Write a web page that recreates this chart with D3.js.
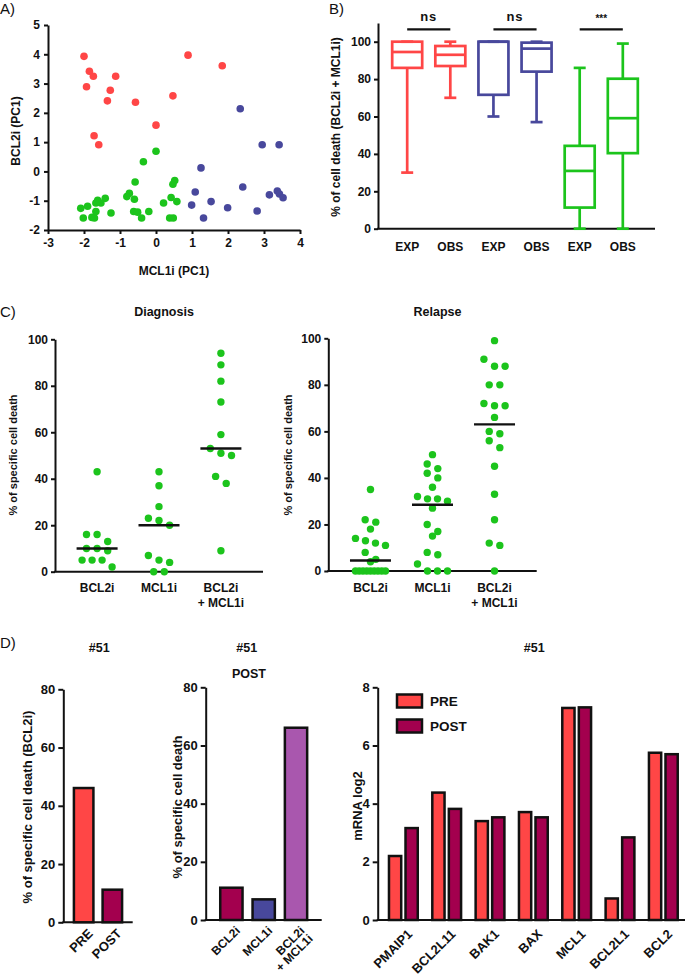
<!DOCTYPE html>
<html>
<head>
<meta charset="utf-8">
<script src="https://cdn.jsdelivr.net/npm/d3@7"></script>
<style>
  body { margin: 0; background: #fff; }
  svg text { font-family: "Liberation Sans", Arial, sans-serif; fill: #111; }
</style>
</head>
<body>
<svg id="fig" width="685" height="980"></svg>
<script>
// ---- data ----
// A) PCA scatter
const redX = [-2.0, -1.85, -1.74, -1.93, -1.12, -1.27, -1.35, -0.57, 0.89, 1.84, 0.47, 0.0, -1.72, -1.59];
const redY = [3.93, 3.42, 3.25, 2.89, 3.25, 2.77, 2.41, 2.36, 3.97, 3.61, 2.58, 1.58, 1.22, 0.91];
const blueX = [2.34, 2.95, 3.42, 1.25, 2.41, 1.09, 3.15, 3.37, 3.43, 3.53, 1.53, 0.99, 1.99, 2.81, 1.32];
const blueY = [2.14, 0.91, 0.91, 0.12, -0.53, -0.70, -0.80, -0.67, -0.77, -0.90, -1.03, -1.15, -1.24, -1.35, -1.59];
const greenX = [0.0, -0.35, -0.58, 0.52, 0.47, -0.74, -0.81, -0.60, 0.42, 0.58, 0.21, -1.41, -1.53, -1.62, -1.67,
  -1.90, -2.09, -2.02, -1.78, -1.71, -1.67, -1.25, -0.62, -0.51, -0.40, -0.20, 0.38, 0.48];
const greenY = [0.69, 0.33, -0.36, -0.31, -0.44, -0.75, -0.86, -0.95, -0.89, -1.03, -1.08, -0.92, -1.08, -0.99, -1.08,
  -1.19, -1.26, -1.59, -1.57, -1.59, -1.37, -1.42, -1.37, -1.39, -1.59, -1.37, -1.59, -1.59];

// B) box plots
const boxLabels = ["EXP", "OBS", "EXP", "OBS", "EXP", "OBS"];
const boxMin = [30, 70, 60, 57, 0, 0];
const boxQ1 = [86, 87, 71.6, 84, 11.3, 40.4];
const boxMed = [94.5, 93, 100, 96.3, 30.9, 59.1];
const boxQ3 = [100, 97.7, 100, 99.5, 44.3, 80.2];
const boxMax = [100, 100, 100, 100, 86, 99];
const sigPairs = [[0, 1], [2, 3], [4, 5]];
const sigLabels = ["ns", "ns", "***"];

// C) specific cell death
const cCats = ["BCL2i", "MCL1i", "BCL2i\n+ MCL1i"];
const diagBCL2i = [43, 16, 16, 13, 10, 10, 9, 5, 5, 5, 2];
const diagMCL1i = [43, 37, 28, 23, 22, 20, 7, 5, 4, 0, 0];
const diagCombo = [94, 89, 82, 73, 59, 53, 51, 50, 41, 38, 9];
const relBCL2i = [35, 22, 21, 18, 14, 13, 12, 11, 8, 5, 4, 0, 0, 0, 0, 0, 0, 0, 0, 0];
const relMCL1i = [50, 46, 44, 42, 40, 36, 32, 31, 31, 30, 27, 20, 17, 15, 8, 7, 3, 0, 0, 0];
const relCombo = [99, 91, 88, 88, 80, 80, 72, 71, 71, 66, 60, 59, 56, 53, 45, 33, 22, 12, 11, 0];

// D) patient #51
const prePostCats = ["PRE", "POST"];
const prePostVals = [46.1, 11.2];
const postCats = ["BCL2i", "MCL1i", "BCL2i\n+ MCL1i"];
const postVals = [11.1, 7.1, 66.1];
const genes = ["PMAIP1", "BCL2L11", "BAK1", "BAX", "MCL1", "BCL2L1", "BCL2"];
const mrnaPre = [2.2, 4.38, 3.4, 3.71, 7.29, 0.74, 5.75];
const mrnaPost = [3.16, 3.82, 3.53, 3.53, 7.31, 2.84, 5.7];

const RED = "#ff4646", NAVY = "#48489c", GREEN = "#1cc41c", CRIMSON = "#a3004e", PURPLE = "#a957ae";

const svg = d3.select("#fig");
const fmt = d => String(d);

function styleAxis(g, fs) {
  g.selectAll("path.domain").attr("stroke", "#111").attr("stroke-width", 2);
  g.selectAll(".tick line").attr("stroke", "#111").attr("stroke-width", 2);
  g.selectAll(".tick text").attr("font-size", fs).attr("font-weight", "bold")
    .style("font-family", "'Liberation Sans', Arial, sans-serif").attr("fill", "#111");
}

function panelLabel(txt, x, y) {
  svg.append("text").attr("x", x).attr("y", y).attr("font-size", 15).text(txt);
}

function yTitle(txt, x, y, fs) {
  svg.append("text")
    .attr("transform", `translate(${x},${y}) rotate(-90)`)
    .attr("text-anchor", "middle").attr("dominant-baseline", "central")
    .attr("font-size", fs).attr("font-weight", "bold").text(txt);
}

function title(txt, x, y, fs) {
  svg.append("text").attr("x", x).attr("y", y).attr("text-anchor", "middle")
    .attr("font-size", fs).attr("font-weight", "bold").text(txt);
}

// ---------- A ----------
panelLabel("A)", 0, 14);
const ax = d3.scaleLinear().domain([-3, 4]).range([48, 300]);
const ay = d3.scaleLinear().domain([-2, 5]).range([230, 25]);
svg.append("g").attr("transform", "translate(0,230)")
  .call(d3.axisBottom(ax).tickValues(d3.range(-3, 5)).tickFormat(fmt).tickSize(4).tickSizeOuter(0).tickPadding(4))
  .call(g => styleAxis(g, 12));
svg.append("g").attr("transform", "translate(48,0)")
  .call(d3.axisLeft(ay).tickValues(d3.range(-2, 6)).tickFormat(fmt).tickSize(4).tickSizeOuter(0).tickPadding(4))
  .call(g => styleAxis(g, 12));
title("MCL1i (PC1)", 174, 275, 12);
yTitle("BCL2i (PC1)", 16, 131, 12);

[[redX, redY, RED], [blueX, blueY, NAVY], [greenX, greenY, GREEN]].forEach(([xs, ys, col]) => {
  svg.append("g").selectAll("circle").data(xs).join("circle")
    .attr("cx", d => ax(d)).attr("cy", (d, i) => ay(ys[i])).attr("r", 3.8).attr("fill", col);
});

// ---------- B ----------
panelLabel("B)", 329, 14);
const bx = d3.scaleBand().domain(d3.range(6)).range([377, 653]).paddingOuter(0.2).paddingInner(0);
const by = d3.scaleLinear().domain([0, 110]).range([228.7, 23]);
const boxColor = [RED, RED, NAVY, NAVY, GREEN, GREEN];
svg.append("g").attr("transform", "translate(378,0)")
  .call(d3.axisLeft(by).tickValues(d3.range(0, 101, 20)).tickSize(4).tickSizeOuter(0).tickPadding(3))
  .call(g => styleAxis(g, 12));
svg.append("line").attr("x1", 377).attr("x2", 655).attr("y1", by(0)).attr("y2", by(0))
  .attr("stroke", "#111").attr("stroke-width", 2);
yTitle("% of cell death (BCL2i + MCL1i)", 336, 127, 12);

const boxW = 30, capW = 12;
const boxes = svg.append("g").selectAll("g").data(boxLabels).join("g")
  .attr("stroke", (d, i) => boxColor[i]).attr("stroke-width", 2.7).attr("fill", "none");
boxes.each(function (d, i) {
  const g = d3.select(this);
  const cx = bx(i) + bx.bandwidth() / 2;
  g.append("line").attr("x1", cx).attr("x2", cx).attr("y1", by(boxMax[i])).attr("y2", by(boxQ3[i]));
  g.append("line").attr("x1", cx).attr("x2", cx).attr("y1", by(boxQ1[i])).attr("y2", by(boxMin[i]));
  g.append("line").attr("x1", cx - capW / 2).attr("x2", cx + capW / 2).attr("y1", by(boxMax[i])).attr("y2", by(boxMax[i]));
  g.append("line").attr("x1", cx - capW / 2).attr("x2", cx + capW / 2).attr("y1", by(boxMin[i])).attr("y2", by(boxMin[i]));
  g.append("rect").attr("x", cx - boxW / 2).attr("width", boxW)
    .attr("y", by(boxQ3[i])).attr("height", by(boxQ1[i]) - by(boxQ3[i]));
  g.append("line").attr("x1", cx - boxW / 2).attr("x2", cx + boxW / 2).attr("y1", by(boxMed[i])).attr("y2", by(boxMed[i]));
});
svg.append("g").selectAll("text").data(boxLabels).join("text")
  .attr("x", (d, i) => bx(i) + bx.bandwidth() / 2).attr("y", 251)
  .attr("text-anchor", "middle").attr("font-size", 12).attr("font-weight", "bold").text(d => d);
sigPairs.forEach((p, k) => {
  const x1 = bx(p[0]) + bx.bandwidth() / 2, x2 = bx(p[1]) + bx.bandwidth() / 2;
  svg.append("line").attr("x1", x1).attr("x2", x2).attr("y1", 29.3).attr("y2", 29.3)
    .attr("stroke", "#111").attr("stroke-width", 2.2);
  svg.append("text").attr("x", (x1 + x2) / 2).attr("y", sigLabels[k] === "ns" ? 21 : 22)
    .attr("text-anchor", "middle").attr("font-size", sigLabels[k] === "ns" ? 13 : 10)
    .attr("font-weight", "bold").attr("letter-spacing", sigLabels[k] === "ns" ? 1 : 0).text(sigLabels[k]);
});

// ---------- C ----------
panelLabel("C)", 0, 317);

function swarmOffsets(vals, y, r, step, maxW) {
  const idx = d3.range(vals.length).sort((a, b) => vals[b] - vals[a]);
  const off = new Array(vals.length).fill(0);
  let row = [];
  const flush = () => {
    const n = row.length;
    const s = n > 1 ? Math.min(step, maxW / (n - 1)) : 0;
    row.forEach((i, k) => { off[i] = (k - (n - 1) / 2) * s; });
    row = [];
  };
  idx.forEach(i => {
    if (row.length && Math.abs(y(vals[row[0]]) - y(vals[i])) > 2 * r) flush();
    row.push(i);
  });
  flush();
  return off;
}

function dotPanel(x0, x1, yTop, yBot, ttl, series, ylx) {
  const x = d3.scalePoint().domain(cCats).range([x0, x1]).padding(0.68);
  const y = d3.scaleLinear().domain([0, 100]).range([yBot, yTop]);
  svg.append("g").attr("transform", `translate(${x0},0)`)
    .call(d3.axisLeft(y).tickValues(d3.range(0, 101, 20)).tickSize(4).tickSizeOuter(0).tickPadding(3))
    .call(g => styleAxis(g, 12));
  svg.append("line").attr("x1", x0 - 1).attr("x2", x1).attr("y1", yBot).attr("y2", yBot)
    .attr("stroke", "#111").attr("stroke-width", 2);
  title(ttl, (x0 + x1) / 2 + 5, 316, 12.5);
  yTitle("% of specific cell death", ylx, 455, 11);
  series.forEach((vals, c) => {
    const cx = x(cCats[c]);
    const off = swarmOffsets(vals, y, 3.7, 10.6, 30);
    svg.append("g").selectAll("circle").data(vals).join("circle")
      .attr("cx", (d, i) => cx + off[i]).attr("cy", d => y(d)).attr("r", 3.7).attr("fill", GREEN);
    const med = d3.median(vals);
    svg.append("line").attr("x1", cx - 20.5).attr("x2", cx + 20.5).attr("y1", y(med)).attr("y2", y(med))
      .attr("stroke", "#111").attr("stroke-width", 2.4);
  });
  cCats.forEach(c => {
    const t = svg.append("text").attr("x", x(c)).attr("y", 592).attr("text-anchor", "middle")
      .attr("font-size", 12).attr("font-weight", "bold");
    c.split("\n").forEach((line, k) => {
      t.append("tspan").attr("x", x(c)).attr("dy", k ? 15 : 0).text(line);
    });
  });
}
dotPanel(55, 263, 339.3, 571.7, "Diagnosis", [diagBCL2i, diagMCL1i, diagCombo], 13);
dotPanel(328.3, 536.7, 338.3, 571, "Relapse", [relBCL2i, relMCL1i, relCombo], 288);

// ---------- D ----------
panelLabel("D)", 0, 648);

function barPanel(cats, vals, colors, x0, x1, xr0, yTop, yBot, ttlX, ylabel, ylx, pi, po, lfs) {
  const x = d3.scaleBand().domain(cats).range([xr0, x1]).paddingInner(pi).paddingOuter(po);
  const y = d3.scaleLinear().domain([0, 80]).range([yBot, yTop]);
  svg.append("g").attr("transform", `translate(${x0},0)`)
    .call(d3.axisLeft(y).tickValues(d3.range(0, 81, 20)).tickSize(5).tickSizeOuter(0).tickPadding(3))
    .call(g => styleAxis(g, 13));
  svg.append("line").attr("x1", x0 - 1).attr("x2", x1).attr("y1", yBot).attr("y2", yBot)
    .attr("stroke", "#111").attr("stroke-width", 2);
  title("#51", ttlX, 652, 12.5);
  yTitle(ylabel, ylx, 807, 13);
  svg.append("g").selectAll("rect").data(vals).join("rect")
    .attr("x", (d, i) => x(cats[i])).attr("width", x.bandwidth())
    .attr("y", d => y(d)).attr("height", d => yBot - y(d))
    .attr("fill", (d, i) => colors[i]).attr("stroke", "#111").attr("stroke-width", 2.5);
  cats.forEach(c => {
    const cx = x(c) + x.bandwidth() / 2 + 3;
    const t = svg.append("text").attr("transform", `translate(${cx},${yBot + 5}) rotate(-45)`)
      .attr("text-anchor", "end").attr("font-size", lfs).attr("font-weight", "bold")
      .attr("dominant-baseline", "hanging");
    c.split("\n").forEach((line, k) => {
      t.append("tspan").attr("x", 0).attr("dy", k ? 11.5 : 0).text(line);
    });
  });
  return x;
}
barPanel(prePostCats, prePostVals, [RED, CRIMSON], 63.3, 132.7, 63.3, 689.3, 922.3, 99.3,
  "% of specific cell death (BCL2i)", 27, 0.32, 0.37, 13);
barPanel(postCats, postVals, [CRIMSON, NAVY, PURPLE], 205.7, 321.7, 205.7, 687.3, 920, 246.7,
  "% of specific cell death", 177, 0.31, 0.45, 12);
title("POST", 249, 677.5, 12.5);

// mRNA grouped bars
const gx = d3.scaleBand().domain(genes).range([381.7, 685]).padding(0);
const sx = d3.scaleBand().domain(prePostCats).range([0, gx.bandwidth()]).paddingInner(0.26).paddingOuter(0.44);
const gy = d3.scaleLinear().domain([0, 8]).range([920, 687.3]);
svg.append("g").attr("transform", "translate(377.7,0)")
  .call(d3.axisLeft(gy).tickValues(d3.range(0, 9, 2)).tickSize(5).tickSizeOuter(0).tickPadding(3))
  .call(g => styleAxis(g, 13));
svg.append("line").attr("x1", 376.7).attr("x2", 685).attr("y1", 920).attr("y2", 920)
  .attr("stroke", "#111").attr("stroke-width", 2);
title("#51", 534.3, 652, 12.5);
yTitle("mRNA log2", 357, 806, 13);
[[mrnaPre, "PRE", RED], [mrnaPost, "POST", CRIMSON]].forEach(([vals, key, col]) => {
  svg.append("g").selectAll("rect").data(vals).join("rect")
    .attr("x", (d, i) => gx(genes[i]) + sx(key)).attr("width", sx.bandwidth())
    .attr("y", d => gy(d)).attr("height", d => 920 - gy(d))
    .attr("fill", col).attr("stroke", "#111").attr("stroke-width", 2.5);
});
genes.forEach(gname => {
  const cx = gx(gname) + gx.bandwidth() / 2 + 3;
  svg.append("text").attr("transform", `translate(${cx},928) rotate(-45)`)
    .attr("text-anchor", "end").attr("dominant-baseline", "hanging")
    .attr("font-size", 13).attr("font-weight", "bold").text(gname);
});
const leg = svg.append("g").selectAll("g").data(prePostCats).join("g")
  .attr("transform", (d, i) => `translate(397,${694.5 + i * 25})`);
leg.append("rect").attr("width", 25).attr("height", 13)
  .attr("fill", (d, i) => [RED, CRIMSON][i]).attr("stroke", "#111").attr("stroke-width", 2.5);
leg.append("text").attr("x", 33).attr("y", 6.5).attr("dominant-baseline", "central")
  .attr("font-size", 13.5).attr("font-weight", "bold").text(d => d);
</script>
</body>
</html>
